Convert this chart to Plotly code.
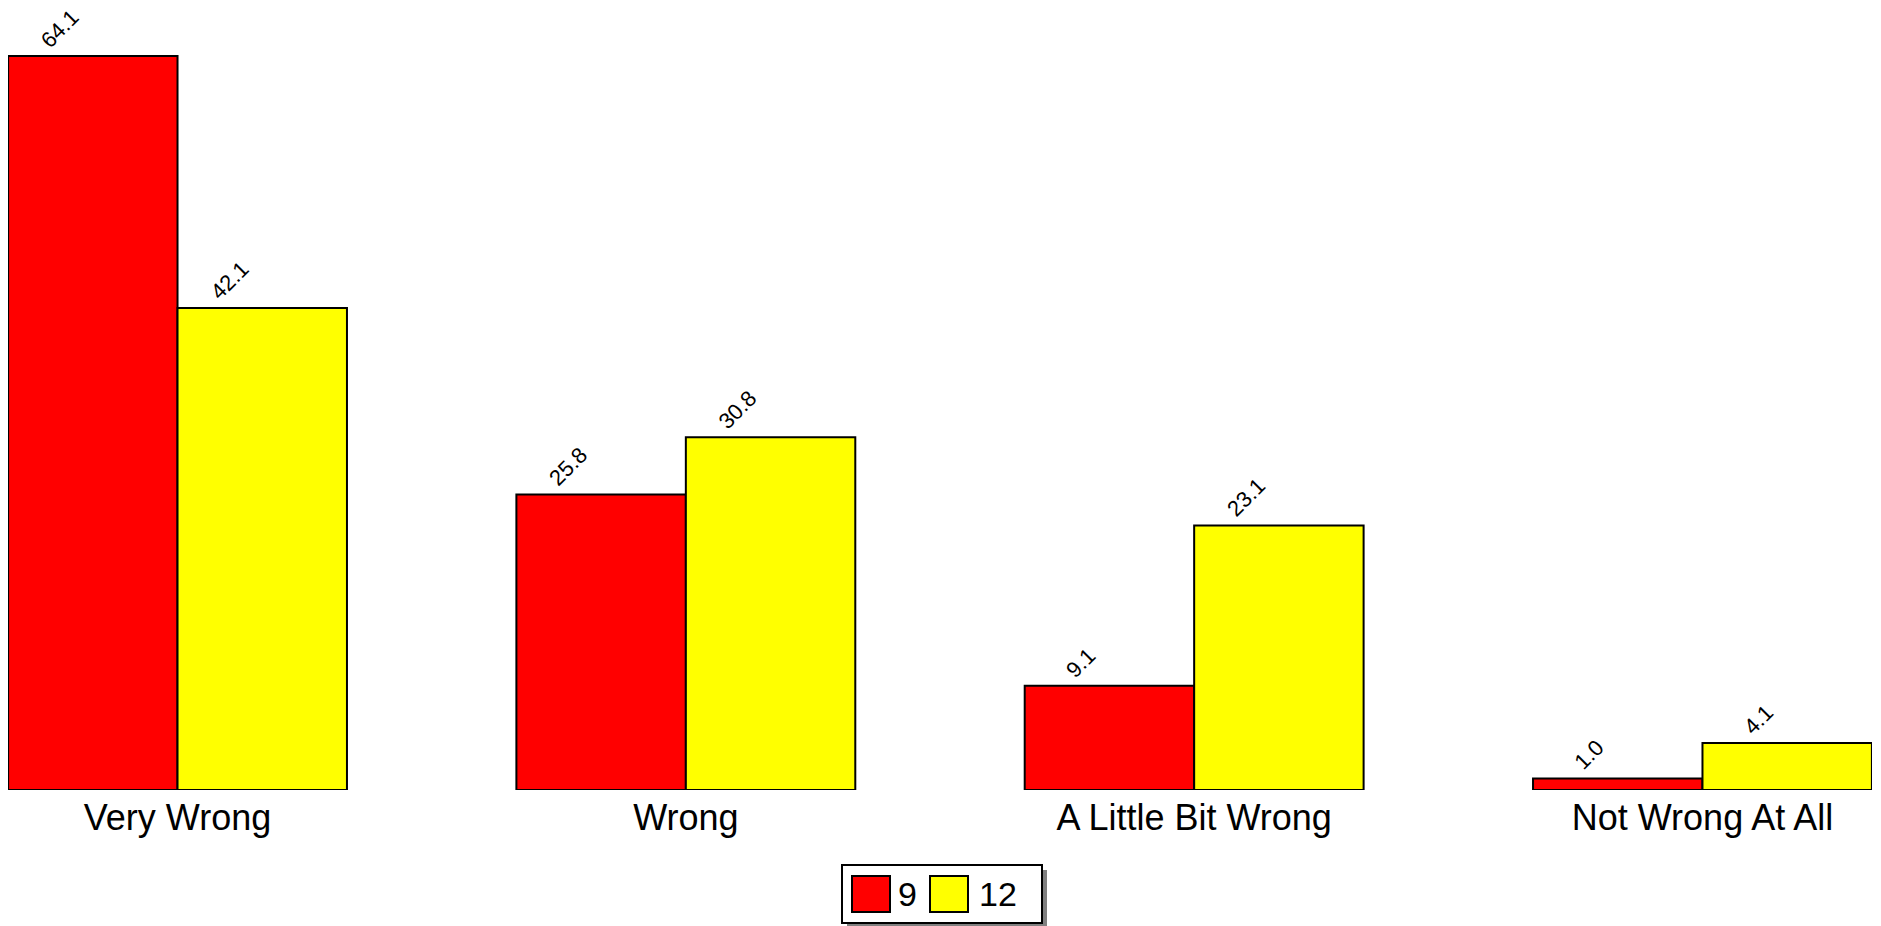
import plotly.graph_objects as go

# Data
categories = ["Very Wrong", "Wrong", "A Little Bit Wrong", "Not Wrong At All"]
grade_9 = [64.1, 25.8, 9.1, 1.0]
grade_12 = [42.1, 30.8, 23.1, 4.1]
series_names = ["9", "12"]
series_colors = ["#FF0000", "#FFFF00"]

W, H = 1881, 926
ML, MR, MT, MB = 8, 9, 11, 136
PW, PH = W - ML - MR, H - MT - MB
FONT = "Arial, Liberation Sans, sans-serif"


def px_x(px):
    return (px - ML) / PW


def px_y(py):
    return (H - MB - py) / PH


fig = go.Figure()
for name, vals, col in zip(series_names, [grade_9, grade_12], series_colors):
    fig.add_trace(go.Bar(x=categories, y=vals, name=name,
                         marker=dict(color=col, line=dict(color="black", width=2)),
                         showlegend=False))

# rotated value labels above each bar
unit = PW / 3.667
annotations = []
for k, vals in enumerate([grade_9, grade_12]):
    off = (-0.5 + k) * unit * 0.3333
    for cat, v in zip(categories, vals):
        annotations.append(dict(x=cat, y=v, xref="x", yref="y", text=f"{v:.1f}",
                                textangle=-45, showarrow=False,
                                xanchor="right", yanchor="bottom",
                                xshift=off - 6, yshift=1,
                                font=dict(family=FONT, size=22, color="black")))

# legend drawn by hand (large swatches, drop shadow)
shapes = [
    dict(type="rect", xref="paper", yref="paper", x0=px_x(847), x1=px_x(1047),
         y0=px_y(930), y1=px_y(870), fillcolor="#808080", line=dict(width=0), layer="above"),
    dict(type="rect", xref="paper", yref="paper", x0=px_x(842), x1=px_x(1042),
         y0=px_y(923), y1=px_y(865), fillcolor="white", line=dict(color="black", width=2), layer="above"),
]
sw_x = [852, 930]
tx_x = [896, 977]
for name, col, sx, tx in zip(series_names, series_colors, sw_x, tx_x):
    shapes.append(dict(type="rect", xref="paper", yref="paper", x0=px_x(sx), x1=px_x(sx + 38),
                       y0=px_y(912), y1=px_y(876), fillcolor=col,
                       line=dict(color="black", width=2), layer="above"))
    annotations.append(dict(x=px_x(tx), y=px_y(894), xref="paper", yref="paper", text=name,
                            showarrow=False, xanchor="left", yanchor="middle",
                            font=dict(family=FONT, size=34, color="black")))

fig.update_layout(
    width=W, height=H,
    margin=dict(l=ML, r=MR, t=MT, b=MB),
    paper_bgcolor="white", plot_bgcolor="white",
    barmode="group", bargap=0.3333, bargroupgap=0,
    xaxis=dict(range=[-0.3335, 3.3335], showline=False, showgrid=False, zeroline=False,
               ticks="", ticklabelstandoff=3,
               tickfont=dict(family=FONT, size=36, color="black")),
    yaxis=dict(range=[0, PH / 11.45], visible=False),
    shapes=shapes,
    annotations=annotations,
)

fig.write_html("out.html", config={"displayModeBar": False},
               post_script="document.body.style.margin='0';")
